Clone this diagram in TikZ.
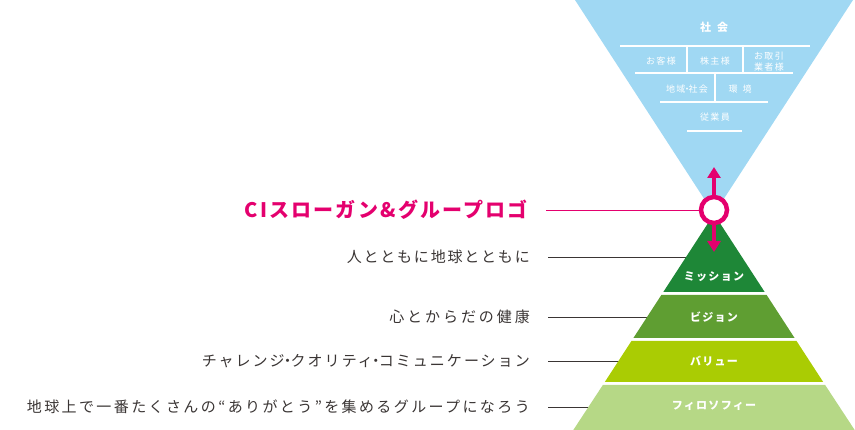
\documentclass[tikz,border=0pt]{standalone}
\usepackage{fontspec}
\setmainfont{Noto Sans CJK JP}
\newfontfamily\jp[LetterSpace=12]{Noto Sans CJK JP}
\newfontfamily\jpb[LetterSpace=19.5]{Noto Sans CJK JP}
\newfontfamily\jpc[LetterSpace=13.5]{Noto Sans CJK JP}
\newfontfamily\jpd[LetterSpace=16]{Noto Sans CJK JP}
\newfontfamily\jpt[LetterSpace=12]{Noto Sans CJK JP}
\newfontfamily\jps[LetterSpace=14]{Noto Sans CJK JP}
\newfontfamily\jpci[LetterSpace=11]{Noto Sans CJK JP}
\newcommand{\ndot}{\kern-4.5pt・\kern-4.5pt}
\usetikzlibrary{arrows.meta}
\definecolor{skyb}{HTML}{A0D8F3}
\definecolor{gmis}{HTML}{1E8737}
\definecolor{gvis}{HTML}{5F9E32}
\definecolor{gval}{HTML}{AACC03}
\definecolor{gphi}{HTML}{B6D886}
\definecolor{cipink}{HTML}{E4006E}
\definecolor{txtg}{HTML}{3A3534}
\begin{document}
\begin{tikzpicture}[x=1pt,y=-1pt,
  lbl/.style={anchor=east, text=txtg, font=\jp\fontsize{15}{18}\selectfont, inner sep=0pt},
  cilbl/.style={anchor=east, text=cipink, font=\jpci\bfseries\fontsize{20}{24}\selectfont, inner sep=0pt},
  lead/.style={draw=txtg, line width=0.8pt},
  pinklead/.style={draw=cipink, line width=0.8pt},
  lyr/.style={text=white, font=\jpt\bfseries\fontsize{11}{13}\selectfont, inner sep=0pt},
  sm/.style={text=white, font=\jps\fontsize{9}{11}\selectfont, inner sep=0pt, align=center},
  wl/.style={draw=white, line width=2pt},
  pinkarrow/.style={draw=cipink, line width=4pt, -{Triangle[width=13pt,length=11pt]}}]
\useasboundingbox (0,0) rectangle (855,430);

% left labels
\node[cilbl] (ci-lbl) at (528,210) {CIスローガン\&グループロゴ};
\node[lbl] (l1) at (530,257) {人とともに地球とともに};
\node[lbl, font=\jpb\fontsize{15}{18}\selectfont] (l2) at (530,317) {心とからだの健康};
\node[lbl, font=\jpc\fontsize{15}{18}\selectfont] (l3) at (530,361) {チャレンジ\ndot クオリティ\ndot コミュニケーション};
\node[lbl, font=\jpd\fontsize{15}{18}\selectfont] (l4) at (530,407) {地球上で一番たくさんの“ありがとう”を集めるグループになろう};

% edge coordinates on the pyramid
\coordinate (e1) at (700,257);
\coordinate (e2) at (670,317);
\coordinate (e3) at (640,361);
\coordinate (e4) at (610,407);

\draw[lead] ([xshift=18pt]l1.east) -- (e1);
\draw[lead] ([xshift=18pt]l2.east) -- (e2);
\draw[lead] ([xshift=18pt]l3.east) -- (e3);
\draw[lead] ([xshift=18pt]l4.east) -- (e4);

% top inverted triangle
\fill[skyb] (575,0) -- (853,0) -- (714,214) -- cycle;
\draw[wl] (620,45.7) -- (810,45.7);
\draw[wl] (687,45.7) -- (687,73.3);
\draw[wl] (743,45.7) -- (743,73.3);
\draw[wl] (635,73.3) -- (793,73.3);
\draw[wl] (715,73.3) -- (715,102);
\draw[wl] (660,102) -- (768,102);
\draw[wl] (687,131) -- (742,131);
\node[sm, font=\jpt\bfseries\fontsize{11}{13}\selectfont] (soc) at (714,27) {社\hspace{6pt}会};
\node[sm] (kyaku) at (661,61) {お客様};
\node[sm] (kabu) at (715,61) {株主様};
\node[sm] (tori) at (769,61.5) {お取引\\業者様};
\node[sm] (chiiki) at (687,89) {地域\kern-3pt・\kern-3pt社会};
\node[sm] (kankyo) at (740,89) {環\hspace{5pt}境};
\node[sm] (jugyo) at (715,117) {従業員};

% pyramid
\fill[gmis] (714,214) -- (764.7,292) -- (663.3,292) -- cycle;
\fill[gvis] (661.35,295) -- (766.65,295) -- (794.6,338) -- (633.4,338) -- cycle;
\fill[gval] (631.45,341) -- (796.55,341) -- (823.2,382) -- (604.8,382) -- cycle;
\fill[gphi] (602.85,385) -- (825.15,385) -- (856,432) -- (572,432) -- cycle;
\node[lyr] (mis) at (714,277) {ミッション};
\node[lyr] (vis) at (714,317) {ビジョン};
\node[lyr] (val) at (714,361) {バリュー};
\node[lyr] (phi) at (714,406) {フィロソフィー};

% CI circle and arrows
\coordinate (up) at (714,167);
\coordinate (down) at (714,252);
\node[circle, draw=cipink, line width=4.5pt, fill=white, minimum size=26pt, inner sep=0pt] (ci) at (714,210) {};
\draw[pinklead] ([xshift=18pt]ci-lbl.east) -- (ci.west);
\draw[pinkarrow] (ci.north) -- (up);
\draw[pinkarrow] (ci.south) -- (down);
\end{tikzpicture}
\end{document}
